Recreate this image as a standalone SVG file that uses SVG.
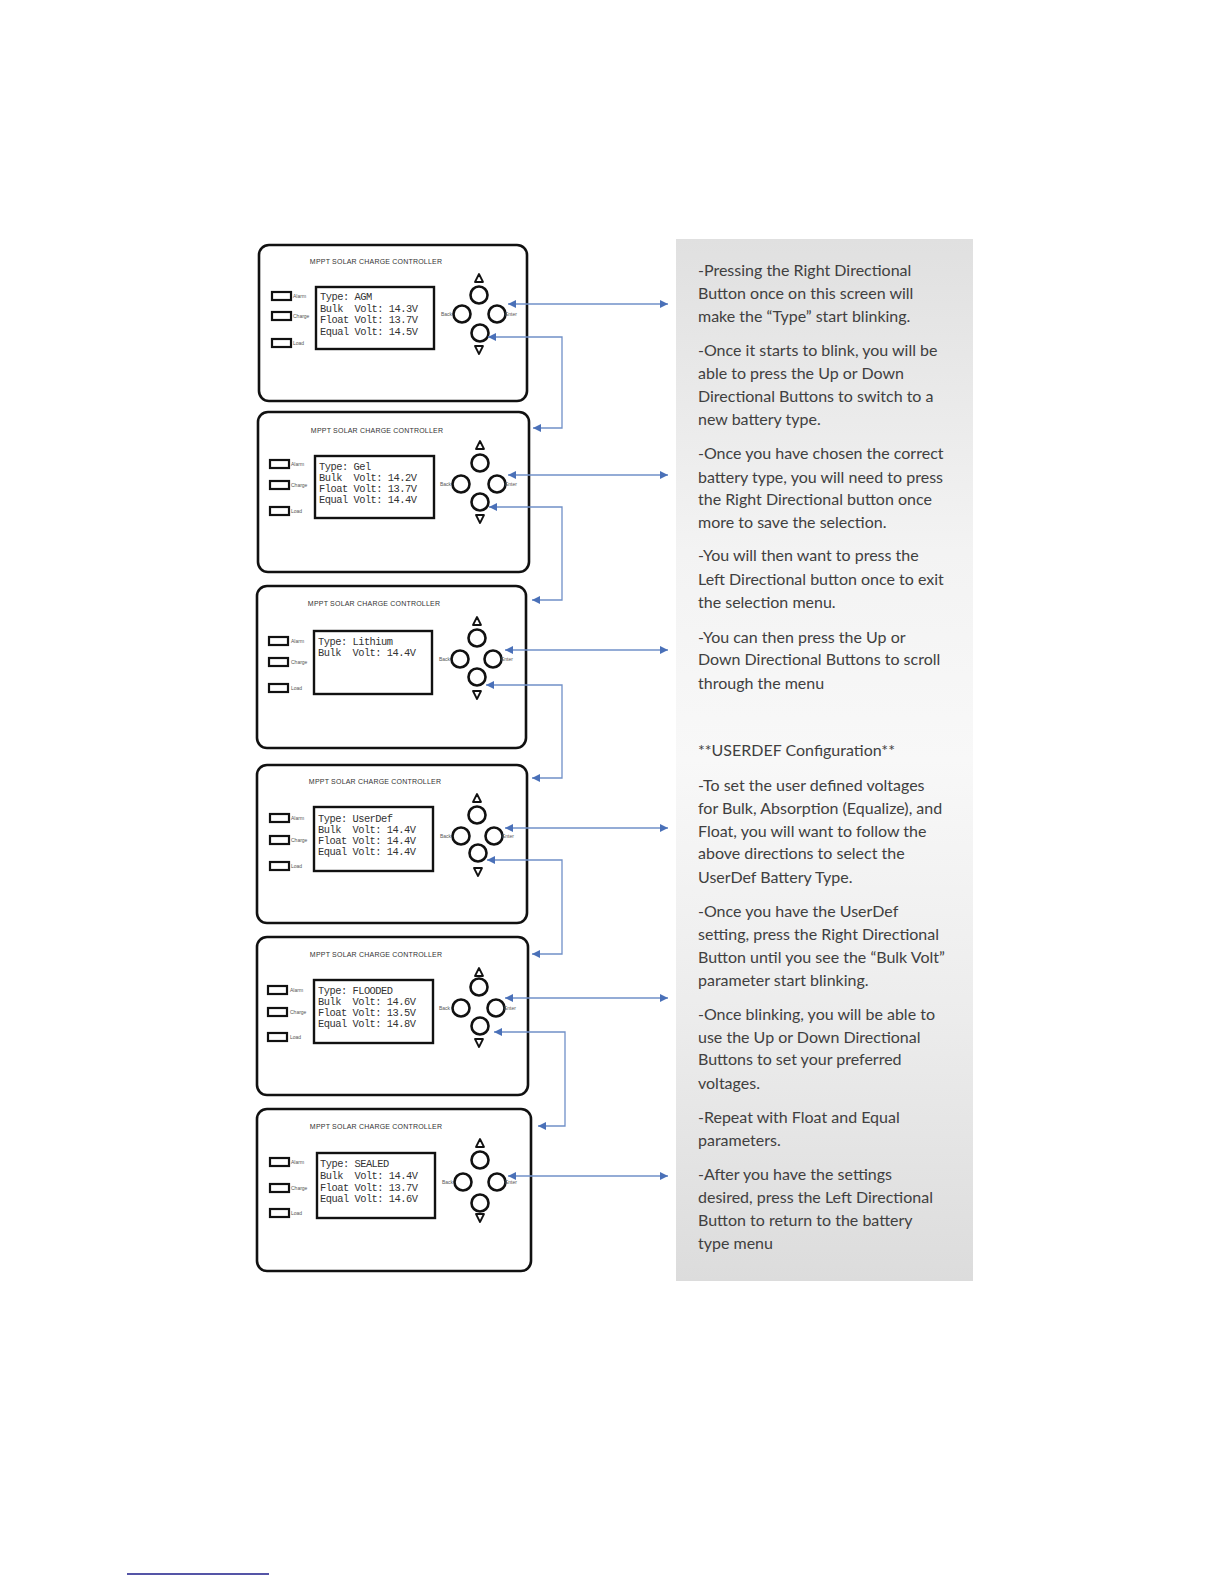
<svg xmlns="http://www.w3.org/2000/svg" width="1224" height="1584" viewBox="0 0 1224 1584">
<style>
.outer{fill:#fff;stroke:#111;stroke-width:2.6}
.lcd{fill:#fff;stroke:#111;stroke-width:2.4}
.led{fill:#fff;stroke:#111;stroke-width:2.2}
.btn{fill:#fff;stroke:#111;stroke-width:2.6}
.tri{fill:none;stroke:#111;stroke-width:1.8;stroke-linejoin:round}
.title{font-family:"Liberation Sans",Arial,sans-serif;font-size:7px;fill:#333;text-anchor:middle;letter-spacing:0.2px}
.lbl{font-family:"Liberation Sans",Arial,sans-serif;font-size:5px;fill:#555}
.scr{font-family:"Liberation Mono","DejaVu Sans Mono",monospace;font-size:10.4px;letter-spacing:-0.5px;fill:#333;white-space:pre}
.conn{fill:none;stroke:#7090c8;stroke-width:1.3}
.note{font-family:Lato,"Open Sans",sans-serif;font-size:16px;fill:#404040}
</style>
<defs>
<marker id="ah" viewBox="0 0 10 10" refX="10" refY="5" markerWidth="9" markerHeight="8" markerUnits="userSpaceOnUse" orient="auto-start-reverse">
<path d="M0,0 L10,5 L0,10 z" fill="#4a70b8"/>
</marker>
<linearGradient id="bg" x1="0" y1="0" x2="0" y2="1">
<stop offset="0" stop-color="#e0e0e0"/>
<stop offset="0.3" stop-color="#f3f3f3"/>
<stop offset="0.5" stop-color="#f8f8f8"/>
<stop offset="0.75" stop-color="#ececec"/>
<stop offset="1" stop-color="#dcdcdc"/>
</linearGradient>
</defs>
<rect width="1224" height="1584" fill="#fff"/>

<g id="notes">
<rect x="676" y="239" width="297" height="1042" fill="url(#bg)"/>
<text class="note" x="698" y="276">-Pressing the Right Directional</text>
<text class="note" x="698" y="299">Button once on this screen will</text>
<text class="note" x="698" y="322">make the “Type” start blinking.</text>
<text class="note" x="698" y="356">-Once it starts to blink, you will be</text>
<text class="note" x="698" y="379">able to press the Up or Down</text>
<text class="note" x="698" y="402">Directional Buttons to switch to a</text>
<text class="note" x="698" y="425">new battery type.</text>
<text class="note" x="698" y="459">-Once you have chosen the correct</text>
<text class="note" x="698" y="483">battery type, you will need to press</text>
<text class="note" x="698" y="505">the Right Directional button once</text>
<text class="note" x="698" y="528">more to save the selection.</text>
<text class="note" x="698" y="561">-You will then want to press the</text>
<text class="note" x="698" y="585">Left Directional button once to exit</text>
<text class="note" x="698" y="608">the selection menu.</text>
<text class="note" x="698" y="643">-You can then press the Up or</text>
<text class="note" x="698" y="665">Down Directional Buttons to scroll</text>
<text class="note" x="698" y="689">through the menu</text>
<text class="note" x="698" y="756">**USERDEF Configuration**</text>
<text class="note" x="698" y="791">-To set the user defined voltages</text>
<text class="note" x="698" y="814">for Bulk, Absorption (Equalize), and</text>
<text class="note" x="698" y="837">Float, you will want to follow the</text>
<text class="note" x="698" y="859">above directions to select the</text>
<text class="note" x="698" y="883">UserDef Battery Type.</text>
<text class="note" x="698" y="917">-Once you have the UserDef</text>
<text class="note" x="698" y="940">setting, press the Right Directional</text>
<text class="note" x="698" y="963">Button until you see the “Bulk Volt”</text>
<text class="note" x="698" y="986">parameter start blinking.</text>
<text class="note" x="698" y="1020">-Once blinking, you will be able to</text>
<text class="note" x="698" y="1043">use the Up or Down Directional</text>
<text class="note" x="698" y="1065">Buttons to set your preferred</text>
<text class="note" x="698" y="1089">voltages.</text>
<text class="note" x="698" y="1123">-Repeat with Float and Equal</text>
<text class="note" x="698" y="1146">parameters.</text>
<text class="note" x="698" y="1180">-After you have the settings</text>
<text class="note" x="698" y="1203">desired, press the Left Directional</text>
<text class="note" x="698" y="1226">Button to return to the battery</text>
<text class="note" x="698" y="1249">type menu</text>
</g>

<g id="panel-agm">
<rect class="outer" x="259" y="245" width="268" height="156" rx="10"/>
<text class="title" x="376" y="264">MPPT SOLAR CHARGE CONTROLLER</text>
<rect class="led" x="272" y="292" width="19" height="8"/>
<rect class="led" x="272" y="312" width="19" height="8"/>
<rect class="led" x="272" y="339" width="19" height="8"/>
<text class="lbl" x="293" y="298">Alarm</text>
<text class="lbl" x="293" y="318">Charge</text>
<text class="lbl" x="293" y="345">Load</text>
<rect class="lcd" x="316" y="287" width="118" height="62"/>
<text class="scr" x="320" y="300">Type: AGM</text>
<text class="scr" x="320" y="312">Bulk  Volt: 14.3V</text>
<text class="scr" x="320" y="323">Float Volt: 13.7V</text>
<text class="scr" x="320" y="335">Equal Volt: 14.5V</text>
<circle class="btn" cx="479" cy="295" r="8.5"/>
<circle class="btn" cx="462" cy="314" r="8.5"/>
<circle class="btn" cx="497" cy="314" r="8.5"/>
<circle class="btn" cx="480" cy="333" r="8.5"/>
<path class="tri" d="M479,274 L483,282 L475,282 Z"/>
<path class="tri" d="M479,354 L483,346 L475,346 Z"/>
<text class="lbl" x="452" y="316" text-anchor="end">Back</text>
<text class="lbl" x="505" y="316">Enter</text>
</g>

<g id="panel-gel">
<rect class="outer" x="258" y="412" width="271" height="160" rx="10"/>
<text class="title" x="377" y="433">MPPT SOLAR CHARGE CONTROLLER</text>
<rect class="led" x="270" y="460" width="19" height="8"/>
<rect class="led" x="270" y="481" width="19" height="8"/>
<rect class="led" x="270" y="507" width="19" height="8"/>
<text class="lbl" x="291" y="466">Alarm</text>
<text class="lbl" x="291" y="487">Charge</text>
<text class="lbl" x="291" y="513">Load</text>
<rect class="lcd" x="315" y="456" width="119" height="62"/>
<text class="scr" x="319" y="470">Type: Gel</text>
<text class="scr" x="319" y="481">Bulk  Volt: 14.2V</text>
<text class="scr" x="319" y="492">Float Volt: 13.7V</text>
<text class="scr" x="319" y="503">Equal Volt: 14.4V</text>
<circle class="btn" cx="480" cy="463" r="8.5"/>
<circle class="btn" cx="461" cy="484" r="8.5"/>
<circle class="btn" cx="497" cy="484" r="8.5"/>
<circle class="btn" cx="480" cy="502" r="8.5"/>
<path class="tri" d="M480,441 L484,449 L476,449 Z"/>
<path class="tri" d="M480,523 L484,515 L476,515 Z"/>
<text class="lbl" x="451" y="486" text-anchor="end">Back</text>
<text class="lbl" x="505" y="486">Enter</text>
</g>

<g id="panel-lithium">
<rect class="outer" x="257" y="586" width="269" height="162" rx="10"/>
<text class="title" x="374" y="606">MPPT SOLAR CHARGE CONTROLLER</text>
<rect class="led" x="269" y="637" width="19" height="8"/>
<rect class="led" x="269" y="658" width="19" height="8"/>
<rect class="led" x="269" y="684" width="19" height="8"/>
<text class="lbl" x="291" y="643">Alarm</text>
<text class="lbl" x="291" y="664">Charge</text>
<text class="lbl" x="291" y="690">Load</text>
<rect class="lcd" x="314" y="631" width="118" height="63"/>
<text class="scr" x="318" y="645">Type: Lithium</text>
<text class="scr" x="318" y="656">Bulk  Volt: 14.4V</text>
<circle class="btn" cx="477" cy="638" r="8.5"/>
<circle class="btn" cx="460" cy="659" r="8.5"/>
<circle class="btn" cx="493" cy="659" r="8.5"/>
<circle class="btn" cx="477" cy="677" r="8.5"/>
<path class="tri" d="M477,617 L481,625 L473,625 Z"/>
<path class="tri" d="M477,699 L481,691 L473,691 Z"/>
<text class="lbl" x="450" y="661" text-anchor="end">Back</text>
<text class="lbl" x="501" y="661">Enter</text>
</g>

<g id="panel-userdef">
<rect class="outer" x="257" y="765" width="270" height="158" rx="10"/>
<text class="title" x="375" y="784">MPPT SOLAR CHARGE CONTROLLER</text>
<rect class="led" x="270" y="814" width="19" height="8"/>
<rect class="led" x="270" y="836" width="19" height="8"/>
<rect class="led" x="270" y="862" width="19" height="8"/>
<text class="lbl" x="291" y="820">Alarm</text>
<text class="lbl" x="291" y="842">Charge</text>
<text class="lbl" x="291" y="868">Load</text>
<rect class="lcd" x="314" y="807" width="119" height="64"/>
<text class="scr" x="318" y="822">Type: UserDef</text>
<text class="scr" x="318" y="833">Bulk  Volt: 14.4V</text>
<text class="scr" x="318" y="844">Float Volt: 14.4V</text>
<text class="scr" x="318" y="855">Equal Volt: 14.4V</text>
<circle class="btn" cx="477" cy="815" r="8.5"/>
<circle class="btn" cx="461" cy="836" r="8.5"/>
<circle class="btn" cx="494" cy="836" r="8.5"/>
<circle class="btn" cx="478" cy="853" r="8.5"/>
<path class="tri" d="M477,794 L481,802 L473,802 Z"/>
<path class="tri" d="M478,876 L482,868 L474,868 Z"/>
<text class="lbl" x="451" y="838" text-anchor="end">Back</text>
<text class="lbl" x="502" y="838">Enter</text>
</g>

<g id="panel-flooded">
<rect class="outer" x="257" y="937" width="271" height="158" rx="10"/>
<text class="title" x="376" y="957">MPPT SOLAR CHARGE CONTROLLER</text>
<rect class="led" x="268" y="986" width="19" height="8"/>
<rect class="led" x="268" y="1008" width="19" height="8"/>
<rect class="led" x="268" y="1033" width="19" height="8"/>
<text class="lbl" x="290" y="992">Alarm</text>
<text class="lbl" x="290" y="1014">Charge</text>
<text class="lbl" x="290" y="1039">Load</text>
<rect class="lcd" x="314" y="980" width="119" height="63"/>
<text class="scr" x="318" y="994">Type: FLOODED</text>
<text class="scr" x="318" y="1005">Bulk  Volt: 14.6V</text>
<text class="scr" x="318" y="1016">Float Volt: 13.5V</text>
<text class="scr" x="318" y="1027">Equal Volt: 14.8V</text>
<circle class="btn" cx="479" cy="987" r="8.5"/>
<circle class="btn" cx="461" cy="1008" r="8.5"/>
<circle class="btn" cx="496" cy="1008" r="8.5"/>
<circle class="btn" cx="480" cy="1026" r="8.5"/>
<path class="tri" d="M479,968 L483,976 L475,976 Z"/>
<path class="tri" d="M479,1047 L483,1039 L475,1039 Z"/>
<text class="lbl" x="450" y="1010" text-anchor="end">Back</text>
<text class="lbl" x="504" y="1010">Enter</text>
</g>

<g id="panel-sealed">
<rect class="outer" x="257" y="1109" width="274" height="162" rx="10"/>
<text class="title" x="376" y="1129">MPPT SOLAR CHARGE CONTROLLER</text>
<rect class="led" x="270" y="1158" width="19" height="8"/>
<rect class="led" x="270" y="1184" width="19" height="8"/>
<rect class="led" x="270" y="1209" width="19" height="8"/>
<text class="lbl" x="291" y="1164">Alarm</text>
<text class="lbl" x="291" y="1190">Charge</text>
<text class="lbl" x="291" y="1215">Load</text>
<rect class="lcd" x="317" y="1153" width="118" height="65"/>
<text class="scr" x="320" y="1167">Type: SEALED</text>
<text class="scr" x="320" y="1179">Bulk  Volt: 14.4V</text>
<text class="scr" x="320" y="1191">Float Volt: 13.7V</text>
<text class="scr" x="320" y="1202">Equal Volt: 14.6V</text>
<circle class="btn" cx="480" cy="1160" r="8.5"/>
<circle class="btn" cx="463" cy="1182" r="8.5"/>
<circle class="btn" cx="497" cy="1182" r="8.5"/>
<circle class="btn" cx="480" cy="1203" r="8.5"/>
<path class="tri" d="M480,1139 L484,1147 L476,1147 Z"/>
<path class="tri" d="M480,1222 L484,1214 L476,1214 Z"/>
<text class="lbl" x="453" y="1184" text-anchor="end">Back</text>
<text class="lbl" x="505" y="1184">Enter</text>
</g>

<g id="connectors">
<path class="conn" d="M508,304 H668" marker-start="url(#ah)" marker-end="url(#ah)"/>
<path class="conn" d="M508,475 H668" marker-start="url(#ah)" marker-end="url(#ah)"/>
<path class="conn" d="M505,650 H668" marker-start="url(#ah)" marker-end="url(#ah)"/>
<path class="conn" d="M505,828 H668" marker-start="url(#ah)" marker-end="url(#ah)"/>
<path class="conn" d="M505,998 H668" marker-start="url(#ah)" marker-end="url(#ah)"/>
<path class="conn" d="M508,1176 H668" marker-start="url(#ah)" marker-end="url(#ah)"/>
<path class="conn" d="M488,337 H562 V428 H533" marker-start="url(#ah)" marker-end="url(#ah)"/>
<path class="conn" d="M489,507 H562 V600 H532" marker-start="url(#ah)" marker-end="url(#ah)"/>
<path class="conn" d="M486,685 H562 V778 H532" marker-start="url(#ah)" marker-end="url(#ah)"/>
<path class="conn" d="M487,860 H562 V954 H532" marker-start="url(#ah)" marker-end="url(#ah)"/>
<path class="conn" d="M494,1032 H565 V1126 H538" marker-start="url(#ah)" marker-end="url(#ah)"/>
</g>

<line x1="127" y1="1574" x2="269" y2="1574" stroke="#1c1c8a" stroke-width="1.5"/>
</svg>
